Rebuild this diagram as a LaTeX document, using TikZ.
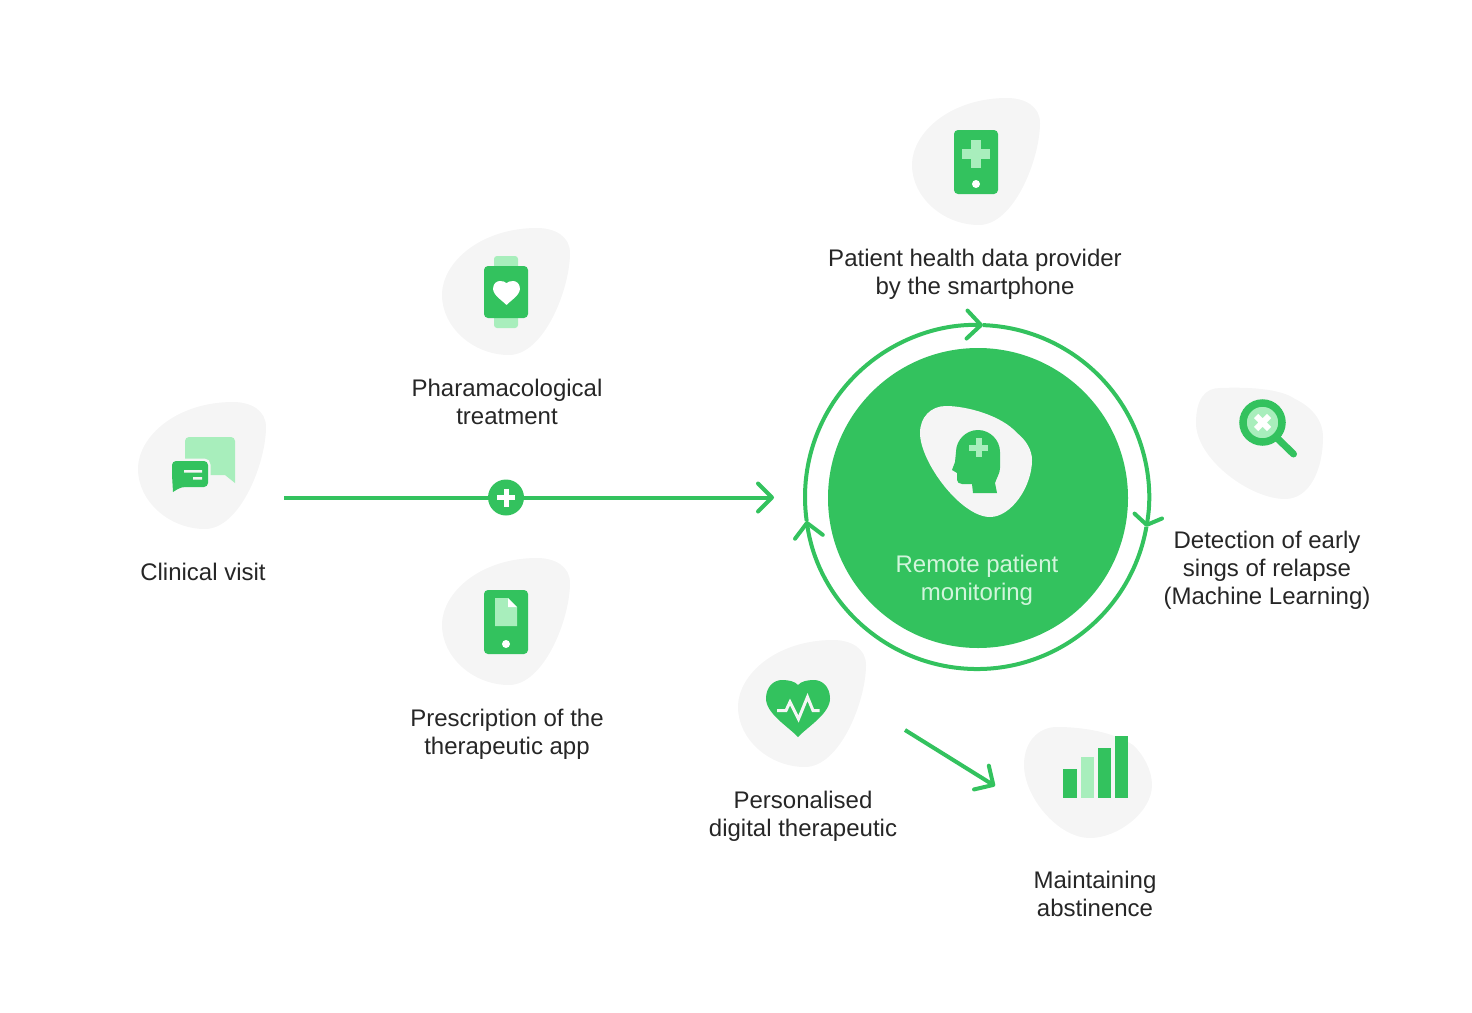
\documentclass[tikz,border=0pt]{standalone}
\usepackage{fontspec}
\setmainfont{Liberation Sans}
\usetikzlibrary{arrows.meta}

\definecolor{maingreen}{HTML}{33C25E}
\definecolor{lightgreen}{HTML}{A8EEBC}
\definecolor{blobgrey}{HTML}{F5F5F5}
\definecolor{textgrey}{HTML}{262626}
\definecolor{disctext}{HTML}{D2F5DC}

\tikzset{
  label/.style={align=center,text=textgrey,font=\fontsize{24}{28}\selectfont},
  flow/.style={draw=maingreen,line width=4pt},
  barb/.style={-{Straight Barb[round,length=14pt,width=28pt]}},
  shortbarb/.style={-{Straight Barb[round,length=9pt,width=28pt]}},
  blob/.pic={
    \fill[blobgrey] (-64,-3) .. controls (-64,30) and (-25,64) .. (31,64)
      .. controls (50,64) and (64,55) .. (64,39)
      .. controls (64,3) and (38,-63) .. (3,-63)
      .. controls (-33,-63) and (-64,-35) .. (-64,-3) -- cycle;
  },
  heart/.pic={
    \fill (0,-28.5) .. controls (-10,-18) and (-32,-5) .. (-32,10)
      .. controls (-32,22) and (-24,28.5) .. (-16,28.5)
      .. controls (-9,28.5) and (-3,27) .. (0,23.5)
      .. controls (3,27) and (9,28.5) .. (16,28.5)
      .. controls (24,28.5) and (32,22) .. (32,10)
      .. controls (32,-5) and (10,-18) .. (0,-28.5) -- cycle;
  }
}

\begin{document}
\begin{tikzpicture}[x=1pt,y=1pt]
      \useasboundingbox (0,-1012) rectangle (1472,0);

      %draw the blobs
      \foreach \x/\y in {202/-466,506/-292,506/-622,976/-162,802/-704} {%
        \draw (\x,\y) pic {blob};
      }
      \fill[blobgrey] (1196,-423) .. controls (1196,-399) and (1205,-388) .. (1220,-388)
        .. controls (1245,-387) and (1280,-388) .. (1295,-399)
        .. controls (1310,-406) and (1323,-419) .. (1323,-437)
        .. controls (1323,-469) and (1310,-499) .. (1285,-499)
        .. controls (1250,-499) and (1196,-459) .. (1196,-423) -- cycle;
      \fill[blobgrey] (1024,-765) .. controls (1024,-742) and (1038,-727) .. (1057,-727)
        .. controls (1083,-727) and (1113,-732) .. (1133,-745)
        .. controls (1143,-754) and (1152,-770) .. (1152,-785)
        .. controls (1152,-812) and (1118,-838) .. (1090,-838)
        .. controls (1058,-838) and (1024,-797) .. (1024,-765) -- cycle;

      %draw main disc and ring
      \coordinate (ringcentre) at (977,-497);
      \node[circle,fill=maingreen,minimum size=300pt,inner sep=0pt] (maindisc) at (978,-498) {};
      \draw[flow,barb] ([shift={(ringcentre)}]188:172pt) arc[start angle=188,end angle=88,radius=172pt];
      \draw[flow,shortbarb] ([shift={(ringcentre)}]88:172pt) arc[start angle=88,end angle=-10,radius=172pt];
      \draw[flow,barb] ([shift={(ringcentre)}]-10:172pt) arc[start angle=-10,end angle=-172,radius=172pt];

      %head in the disc
      \fill[blobgrey] (920,-433) .. controls (920,-417) and (931,-406) .. (946,-406)
        .. controls (966,-406) and (1001,-415) .. (1017,-433)
        .. controls (1026,-440) and (1032,-450) .. (1032,-460)
        .. controls (1032,-487) and (1011,-517) .. (990,-517)
        .. controls (961,-517) and (920,-462) .. (920,-433) -- cycle;
      \fill[maingreen] (997,-493) -- (995,-483) .. controls (997,-477) and (1000,-473) .. (1000,-468)
        -- (1000,-452) .. controls (1000,-440) and (990,-430) .. (978,-430)
        .. controls (966,-430) and (956,-440) .. (956,-452)
        -- (955,-462) -- (952,-470) -- (957,-473) -- (957,-480)
        .. controls (957,-482) and (959,-484) .. (962,-484)
        -- (972,-484) -- (973,-493) -- cycle;
      \draw[lightgreen,line width=6pt] (969,-447.5) -- (988,-447.5) (978.5,-438) -- (978.5,-457);

      %draw horizontal line
      \coordinate (visitend) at (284,-497.5);
      \coordinate (discend) at (774,-497.5);
      \node[circle,fill=maingreen,minimum size=36pt,inner sep=0pt] (plusnode) at (506,-497.5) {};
      \draw[flow] (visitend) -- (plusnode);
      \draw[flow,barb] (plusnode) -- (discend);
      \draw[white,line width=5pt] (497,-497.5) -- (515,-497.5) (506,-488.5) -- (506,-506.5);

      %draw arrow to the last step
      \coordinate (therapyend) at (905,-730);
      \coordinate (barsend) at (995,-786);
      \draw[flow,barb] (therapyend) -- (barsend);

      %chat icon
      \fill[lightgreen,rounded corners=4pt] (185,-475) -- (185,-437) -- (235,-437) -- (235,-470) [sharp corners] -- (235,-483) -- (225,-475) -- cycle;
      \filldraw[maingreen,draw=blobgrey,line width=5pt,rounded corners=4pt] (172,-461) -- (208,-461) -- (208,-487) -- (181,-487) [sharp corners] -- (172,-493) [rounded corners=4pt] -- (172,-461) -- cycle;
      \fill[maingreen,rounded corners=4pt] (172,-461) -- (208,-461) -- (208,-487) -- (181,-487) [sharp corners] -- (173,-492) [rounded corners=4pt] -- (172,-475) -- cycle;
      \fill[blobgrey] (184,-470) rectangle (202,-472.5) (193,-477) rectangle (202,-479.5);

      %watch icon
      \fill[lightgreen,rounded corners=3pt] (494,-256) rectangle (518,-328);
      \fill[maingreen,rounded corners=4pt] (484,-266) rectangle (528,-318);
      \draw[white] (506.5,-293) pic[scale=0.42] {heart};

      %phone with document
      \fill[maingreen,rounded corners=4pt] (484,-590) rectangle (528,-654);
      \fill[lightgreen] (495,-598) -- (508,-598) -- (517,-607) -- (517,-626) -- (495,-626) -- cycle;
      \fill[white] (508,-598) -- (517,-607) -- (508,-607) -- cycle;
      \fill[white] (506,-644) circle (4);

      %phone with plus
      \fill[maingreen,rounded corners=4pt] (954,-130) rectangle (998,-194);
      \draw[lightgreen,line width=10pt] (962,-154) -- (990,-154) (976,-140) -- (976,-168);
      \fill[white] (976,-184) circle (4);

      %magnifier icon
      \draw[maingreen,line width=7pt,line cap=round] (1277,-438) -- (1293.5,-454);
      \filldraw[fill=lightgreen,draw=maingreen,line width=7.5pt] (1262.5,-422.5) circle (19.5);
      \draw[white,line width=6pt] (1256,-416) -- (1269,-429) (1256,-429) -- (1269,-416);

      %heart icon
      \draw[maingreen] (798,-708.5) pic {heart};
      \draw[blobgrey,line width=3pt] (777,-710.5) -- (786,-710.5) -- (790,-702) -- (798.5,-719) -- (807.5,-697) -- (813,-710.5) -- (819.5,-710.5);

      %bars icon
      \foreach \x/\w/\t/\c in {1063/14/769/maingreen,1081/13/757/lightgreen,1098/13/748/maingreen,1115/13/736/maingreen} {%
        \fill[\c] (\x,-798) rectangle (\x+\w,-\t);
      }

      %draw labels
      \node[label] (visit) at (203,-572) {Clinical visit};
      \node[label] (pharma) at (507,-402) {Pharamacological\\treatment};
      \node[label] (prescription) at (507,-734) {Prescription of the\\therapeutic app};
      \node[label] (provider) at (975,-274) {Patient health data provider\\by the smartphone};
      \node[label] (detection) at (1267,-570) {Detection of early\\sings of relapse\\(Machine Learning)};
      \node[label] (therapeutic) at (803,-816) {Personalised\\digital therapeutic};
      \node[label] (abstinence) at (1095,-894) {Maintaining\\abstinence};
      \node[label,text=disctext] (monitoring) at (977,-580) {Remote patient\\monitoring};
\end{tikzpicture}
\end{document}
